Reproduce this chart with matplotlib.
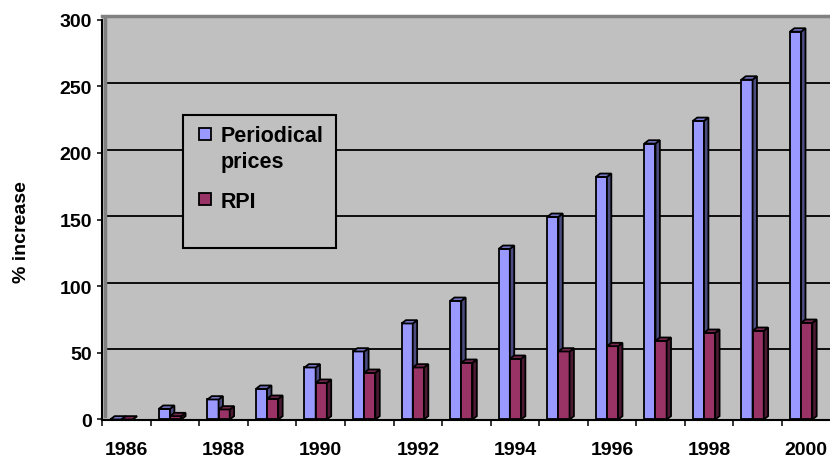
import matplotlib.pyplot as plt
from matplotlib.patches import Polygon, Rectangle
import numpy as np

############################## Datos ##############################
years = list(range(1986, 2001))
periodical = [0, 8, 15, 23, 39, 51, 72, 89, 128, 152, 182, 207, 224, 255, 291]
rpi = [0, 2.5, 7.5, 15.5, 27.5, 35, 39, 42.5, 45.5, 51, 55, 59, 65, 66.5, 72.5]
y_ticks = [0, 50, 100, 150, 200, 250, 300]
series_names = ['Periodical\nprices', 'RPI']

blue, blue_side, blue_top = '#9999ff', '#4c4c80', '#7a7acc'
red, red_side, red_top = '#993366', '#4d1a33', '#7a2952'

plt.rcParams['font.family'] = ['Liberation Sans', 'DejaVu Sans']
plt.rcParams['font.weight'] = 'bold'

W, H = 830, 460
fig = plt.figure(figsize=(W / 100, H / 100), dpi=100)
ax = fig.add_axes([102.3 / W, 39 / H, 728.2 / W, 404 / H])
ax.set_facecolor('#c0c0c0')


def px(x, y):
    # pixel (top-left origin) -> figure fraction
    return x / W, 1 - y / H


############################## Barras "3D" ##############################
x = np.arange(len(years))
w = 0.23
dx, dy = 0.09, 2.5


def bars3d(xs, vals, face, side, top, z):
    ax.bar(xs, vals, width=w, align='edge', color=face, edgecolor='black',
           linewidth=1.3, zorder=z)
    for xl, h in zip(xs, vals):
        xr = xl + w
        ax.add_patch(Polygon([(xr, 0), (xr + dx, dy), (xr + dx, h + dy), (xr, h)],
                             closed=True, fc=side, ec='black', lw=1.3, zorder=z))
        ax.add_patch(Polygon([(xl, h), (xl + dx, h + dy), (xr + dx, h + dy), (xr, h)],
                             closed=True, fc=top, ec='black', lw=1.3, zorder=z))


bars3d(x - 0.335, periodical, blue, blue_side, blue_top, 3)
bars3d(x - 0.105, rpi, red, red_side, red_top, 4)

ax.set_xlim(-0.5, len(years) - 0.5)
ax.set_ylim(-0.4, 302.7)

# lineas de la pared del fondo
ax.hlines([v + dy for v in y_ticks[1:-1]], -0.45, len(years) - 0.5,
          colors='black', lw=1.3, zorder=1)
ax.plot([-0.44, -0.44], [dy, 302.7], color='#808080', lw=2.5, zorder=1.5)

############################## Ejes ##############################
ax.set_yticks(y_ticks)
ax.tick_params(axis='y', direction='out', length=3.6, width=1.1,
               labelsize=14, pad=3.8)

major = [i for i, yr in enumerate(years) if yr % 2 == 0]
ax.set_xticks(major)
ax.set_xticklabels([str(years[i]) for i in major])
ax.set_xticks(np.arange(-0.5, len(years), 1), minor=True)
ax.tick_params(axis='x', which='major', length=0, labelsize=14, pad=15)
ax.tick_params(axis='x', which='minor', direction='out', length=4, width=1.1)

ax.spines['right'].set_visible(False)
ax.spines['top'].set_color('#808080')
ax.spines['top'].set_linewidth(2.5)
ax.spines['left'].set_linewidth(1.5)
ax.spines['left'].set_bounds(-0.4, 300)
ax.spines['bottom'].set_linewidth(1.5)

fig.text(*px(21, 232), '% increase', rotation=90, ha='center', va='center',
         fontsize=14, fontweight='bold')

############################## Leyenda ##############################
fx0, fy1 = px(183, 249.3)
fig.add_artist(Rectangle((fx0, fy1), 152.7 / W, 133.6 / H, transform=fig.transFigure,
                         fc='#c0c0c0', ec='black', lw=1.5, zorder=5))
entries = [(blue, 129.3, 141.7), (red, 194.3, 207.7)]
for name, (col, mtop, base) in zip(series_names, entries):
    mx, my = px(199.3, mtop + 12)
    fig.add_artist(Rectangle((mx, my), 12 / W, 12 / H, transform=fig.transFigure,
                             fc=col, ec='black', lw=1.3, zorder=6))
    for k, line in enumerate(name.split('\n')):
        fig.text(*px(220.7, base + 26.6 * k), line, ha='left', va='baseline',
                 fontsize=15.5, fontweight='bold', zorder=7)

fig.savefig('out.png', dpi=100)
